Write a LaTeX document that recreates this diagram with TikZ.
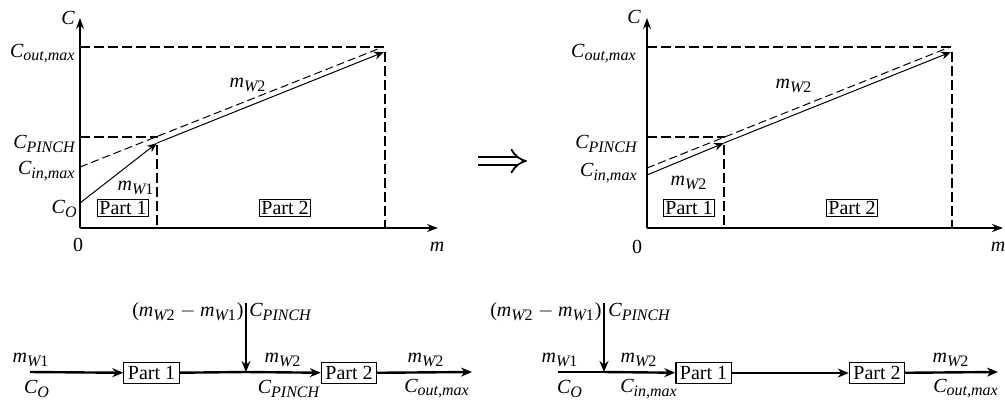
\documentclass[tikz,border=0pt]{standalone}
\usepackage{amsmath}
\usepackage{fontspec}
\setmainfont{Liberation Serif}
\usetikzlibrary{arrows.meta}
\DeclareMathSizes{10}{10}{8}{6}

\newcommand{\mw}[1]{\textit{m}_{\textit{W}\textup{#1}}}
\newcommand{\cc}[1]{\textit{C}_{\textit{#1}}}

\begin{document}
\begin{tikzpicture}[x=0.5pt,y=-0.5pt,
  axis/.style={line width=0.6pt,-{Stealth[length=5.5pt,width=4pt]}},
  guide/.style={line width=1pt,dash pattern=on 5pt off 2pt},
  flow/.style={line width=0.5pt,-{Stealth[length=5pt,width=4pt]}},
  ref/.style={line width=0.5pt,dash pattern=on 4pt off 2pt},
  lab/.style={inner sep=0pt},
  part/.style={draw,line width=0.5pt,inner sep=1.1pt},
  blk/.style={draw,line width=0.6pt,inner sep=2pt},
  stream/.style={line width=1.2pt,-{Stealth[length=5.5pt,width=4.5pt]}}]
  \useasboundingbox (0,0) rectangle (1005,402);

  % left chart
  \coordinate (aO) at (80,228);
  \coordinate (aY) at (80,18);
  \coordinate (aX) at (438,228);
  \coordinate (aCo) at (80,203);
  \coordinate (aCin) at (80,167);
  \coordinate (aP) at (157,143);
  \coordinate (aE) at (384,52);
  \draw[axis] (aO) -- (aY);
  \draw[axis] (aO) -- (aX);
  \draw[guide] (80,47) -- (385,47) (385,52) -- (385,228);
  \draw[guide] (80,137) -- (158,137) (157,145) -- (157,228);
  \draw[ref] (aCin) -- (383,47);
  \draw[flow] (aCo) -- (aP);
  \draw[flow] (aP) -- (aE);
  \node[lab] (aC) at (68,18) {$\textit{C}$};
  \node[lab,anchor=east] (aCout) at (76,54) {$\cc{out,max}$};
  \node[lab,anchor=east] (aCp) at (76,144) {$\cc{PINCH}$};
  \node[lab,anchor=east] (aCi) at (76,171) {$\cc{in,max}$};
  \node[lab,anchor=east] (aCO) at (78,209) {$\cc{O}$};
  \node[lab] (aZero) at (78,245) {0};
  \node[lab] (aM) at (437,247) {$\textit{m}$};
  \node[lab] (aW1) at (136,188) {$\mw1$};
  \node[lab] (aW2) at (248,85) {$\mw2$};
  \node[part] (aPart1) at (123,208) {Part 1};
  \node[part] (aPart2) at (285,208) {Part 2};

  % implies sign
  \coordinate (impA) at (478,161);
  \coordinate (impB) at (527,161);
  \draw[line width=0.9pt,double distance=3.4pt,-{Implies}] (impA) -- (impB);

  % right chart
  \begin{scope}[shift={(567,0)}]
    \coordinate (bO) at (80,228);
    \coordinate (bY) at (80,18);
    \coordinate (bX) at (436,228);
    \coordinate (bCin) at (80,175);
    \coordinate (bCr) at (80,168);
    \coordinate (bP) at (157,143);
    \coordinate (bE) at (384,52);
    \draw[axis] (bO) -- (bY);
    \draw[axis] (bO) -- (bX);
    \draw[guide] (80,47) -- (385,47) (385,52) -- (385,228);
    \draw[guide] (80,137) -- (158,137) (157,145) -- (157,228);
    \draw[ref] (bCr) -- (383,47);
    \draw[flow] (bCin) -- (bP);
    \draw[flow] (bP) -- (bE);
    \node[lab] (bC) at (67,17) {$\textit{C}$};
    \node[lab,anchor=east] (bCout) at (70,54) {$\cc{out,max}$};
    \node[lab,anchor=east] (bCp) at (71,144) {$\cc{PINCH}$};
    \node[lab,anchor=east] (bCi) at (71,173) {$\cc{in,max}$};
    \node[lab] (bZero) at (70,247) {0};
    \node[lab] (bM) at (431,247) {$\textit{m}$};
    \node[lab] (bW1) at (122,183) {$\mw2$};
    \node[lab] (bW2) at (227,86) {$\mw2$};
    \node[part] (bPart1) at (122,208) {Part 1};
    \node[part] (bPart2) at (285,208) {Part 2};
  \end{scope}

  % left flow sheet
  \coordinate (s1) at (30,372);
  \coordinate (j1) at (246,372);
  \coordinate (t1) at (246,303);
  \coordinate (e1) at (472,372);
  \node[blk] (p1) at (151.5,373) {Part 1};
  \node[blk] (p2) at (349,373) {Part 2};
  \draw[stream] (s1) -- (p1);
  \draw[line width=1.2pt] (p1) -- (j1);
  \draw[stream] (j1) -- (p2);
  \draw[stream] (p2) -- (e1);
  \draw[stream] (t1) -- (j1);
  \node[lab,anchor=east] (feed1) at (244,312) {($\mw2 - \mw1$)};
  \node[lab,anchor=west] (feedc1) at (249,312) {$\cc{PINCH}$};
  \node[lab] (in1m) at (31,360) {$\mw1$};
  \node[lab] (in1c) at (37,389) {$\cc{O}$};
  \node[lab] (mid1m) at (283,360) {$\mw2$};
  \node[lab] (mid1c) at (289,389) {$\cc{PINCH}$};
  \node[lab] (out1m) at (426,360) {$\mw2$};
  \node[lab] (out1c) at (437,389) {$\cc{out,max}$};

  % right flow sheet
  \coordinate (s2) at (558,372);
  \coordinate (j2) at (604,372);
  \coordinate (t2) at (604,303);
  \coordinate (e2) at (998,372);
  \node[blk] (q1) at (703.5,373) {Part 1};
  \node[blk] (q2) at (877,373) {Part 2};
  \draw[line width=1.2pt] (s2) -- (j2);
  \draw[stream] (j2) -- (q1);
  \draw[stream] (q1) -- (q2);
  \draw[stream] (q2) -- (e2);
  \draw[stream] (t2) -- (j2);
  \node[lab,anchor=east] (feed2) at (602,312) {($\mw2 - \mw1$)};
  \node[lab,anchor=west] (feedc2) at (608,312) {$\cc{PINCH}$};
  \node[lab] (in2m) at (560,360) {$\mw1$};
  \node[lab] (in2c) at (570,389) {$\cc{O}$};
  \node[lab] (mid2m) at (639,360) {$\mw2$};
  \node[lab] (mid2c) at (649,389) {$\cc{in,max}$};
  \node[lab] (out2m) at (951,360) {$\mw2$};
  \node[lab] (out2c) at (966,389) {$\cc{out,max}$};
\end{tikzpicture}
\end{document}
